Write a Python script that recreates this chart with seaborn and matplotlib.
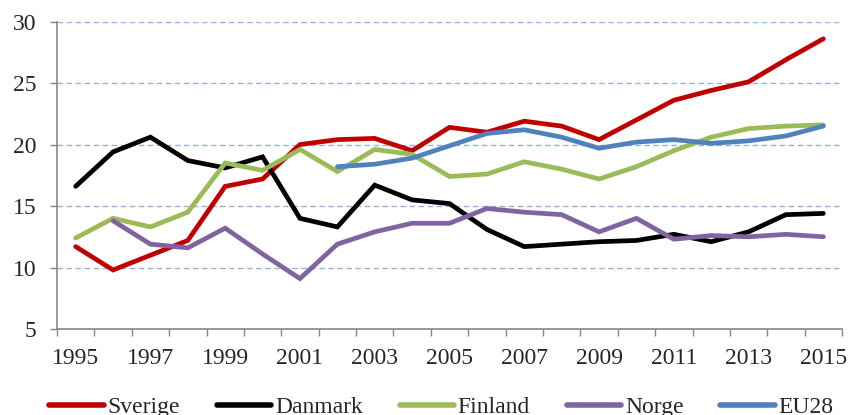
import pandas as pd
import matplotlib.pyplot as plt
from matplotlib.ticker import FixedLocator, NullFormatter
import seaborn as sns

years = list(range(1995, 2016))

sverige = [11.7, 9.8, 11.0, 12.2, 16.6, 17.2, 20.0, 20.4, 20.5, 19.5, 21.4,
           21.0, 21.9, 21.5, 20.4, 22.0, 23.6, 24.4, 25.1, 26.9, 28.6]
danmark = [16.6, 19.4, 20.6, 18.7, 18.1, 19.0, 14.0, 13.3, 16.7, 15.5, 15.2,
           13.1, 11.7, 11.9, 12.1, 12.2, 12.7, 12.1, 12.9, 14.3, 14.4]
finland = [12.4, 14.0, 13.3, 14.5, 18.5, 17.9, 19.6, 17.8, 19.6, 19.2, 17.4,
           17.6, 18.6, 18.0, 17.2, 18.2, 19.5, 20.6, 21.3, 21.5, 21.6]
norge = [None, 13.8, 11.9, 11.6, 13.2, 11.1, 9.1, 11.9, 12.9, 13.6, 13.6,
         14.8, 14.5, 14.3, 12.9, 14.0, 12.3, 12.6, 12.5, 12.7, 12.5]
eu28 = [None, None, None, None, None, None, None, 18.2, 18.4, 18.9, 19.9,
        20.9, 21.2, 20.6, 19.7, 20.2, 20.4, 20.1, 20.3, 20.7, 21.5]

series = {"Sverige": sverige, "Danmark": danmark, "Finland": finland,
          "Norge": norge, "EU28": eu28}
colors = {"Sverige": "#C00000", "Danmark": "#000000", "Finland": "#9BBB59",
          "Norge": "#8064A2", "EU28": "#4F81BD"}

rows = []
for name, vals in series.items():
    for i, v in enumerate(vals):
        rows.append({"pos": i, "year": years[i], "value": v, "land": name})
df = pd.DataFrame(rows).dropna()

sns.set_theme(style="white")
plt.rcParams["font.family"] = ["Liberation Serif", "DejaVu Serif"]

fig = plt.figure(figsize=(8.49, 4.15), dpi=100)
ax = fig.add_axes([0.0671, 0.2072, 0.9247, 0.7408])

sns.lineplot(data=df, x="pos", y="value", hue="land", palette=colors,
             hue_order=list(series), estimator=None, sort=False,
             linewidth=3.4, ax=ax)
for ln in ax.get_lines():
    ln.set_solid_capstyle("round")
    ln.set_solid_joinstyle("miter")

ax.set_xlim(-0.5, len(years) - 0.5)
ax.set_ylim(5, 30)
ax.set_yticks(range(5, 31, 5))
ax.yaxis.grid(True, linestyle=(0, (4, 2.5)), color="#95B3D7", linewidth=1)
ax.set_axisbelow(True)

# odd years labelled, tick marks sit between categories (Excel style)
ax.set_xticks(range(0, len(years), 2))
ax.set_xticklabels([str(y) for y in years[::2]])
ax.xaxis.set_minor_locator(FixedLocator([i - 0.5 for i in range(len(years) + 1)]))
ax.xaxis.set_minor_formatter(NullFormatter())
ax.tick_params(axis="x", which="major", length=0, pad=14, labelsize=17)
ax.tick_params(axis="x", which="minor", length=5, width=1, color="#868686",
               direction="out", bottom=True)
ax.tick_params(axis="y", length=5, width=1, color="#868686", direction="out",
               pad=10, labelsize=17, left=True)

for s in ["top", "right"]:
    ax.spines[s].set_visible(False)
for s in ["left", "bottom"]:
    ax.spines[s].set_color("#868686")
    ax.spines[s].set_linewidth(1.2)

ax.set_xlabel("")
ax.set_ylabel("")

handles, labels = ax.get_legend_handles_labels()
ax.get_legend().remove()
leg = fig.legend(handles, labels, loc="center", bbox_to_anchor=(0.520, 0.019),
                 ncol=5, frameon=False, fontsize=17, handlelength=2.3,
                 handletextpad=0.17, columnspacing=1.55, borderpad=0,
                 borderaxespad=0)
for h in leg.legend_handles:
    h.set_linewidth(4)
    h.set_solid_capstyle("round")

fig.savefig("out.png", dpi=100)
